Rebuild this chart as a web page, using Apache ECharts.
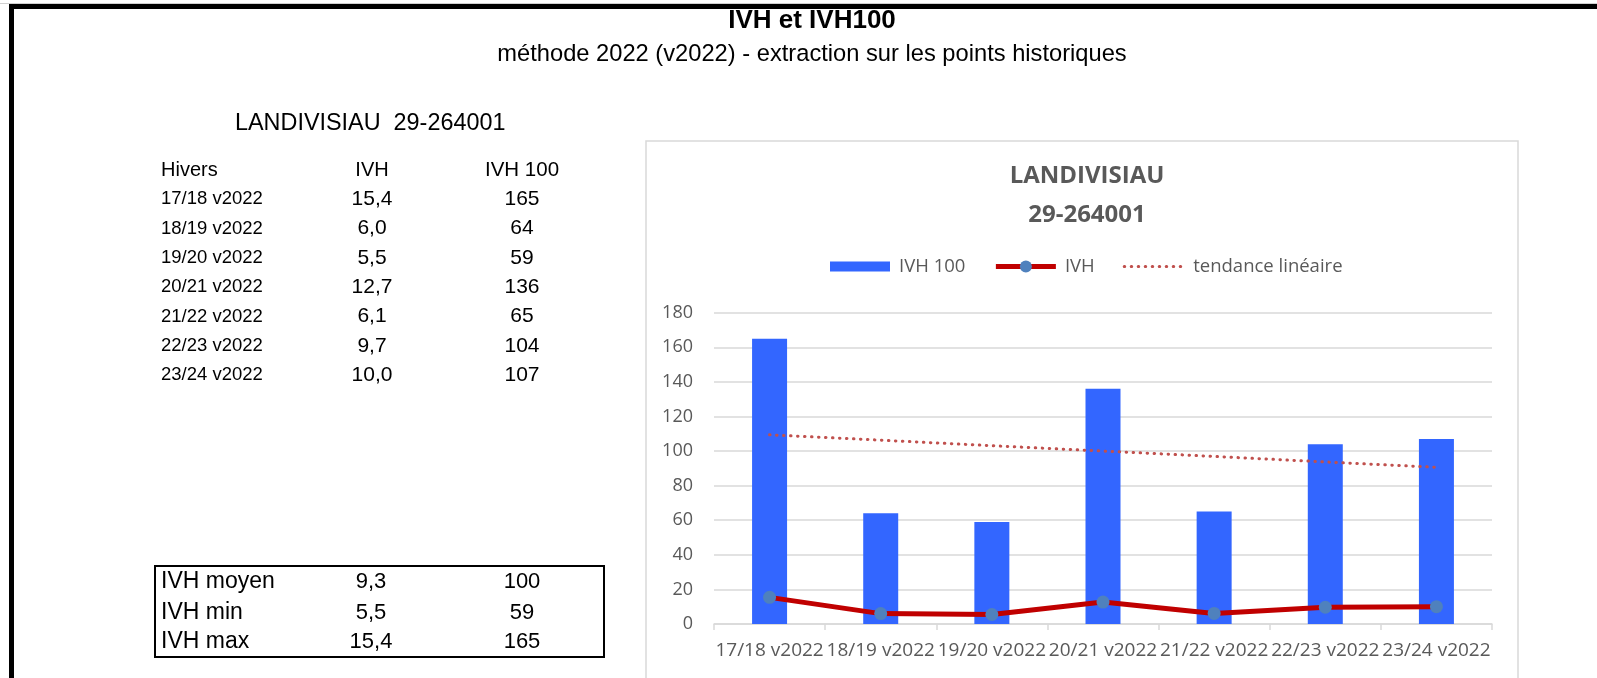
<!DOCTYPE html>
<html>
<head>
<meta charset="utf-8">
<title>IVH et IVH100</title>
<script src="https://cdn.jsdelivr.net/npm/echarts@6/dist/echarts.min.js"></script>
<style>
  html, body { margin: 0; padding: 0; background: #fff; }
  #chart { width: 1597px; height: 678px; }
</style>
</head>
<body>
<div id="chart"></div>
<script>
// données
const hivers = ['17/18 v2022', '18/19 v2022', '19/20 v2022', '20/21 v2022', '21/22 v2022', '22/23 v2022', '23/24 v2022'];
const ivh = [15.4, 6.0, 5.5, 12.7, 6.1, 9.7, 10.0];
const ivh100 = [165, 64, 59, 136, 65, 104, 107];
const tendance = [109.4, 106.3, 103.1, 100.0, 96.9, 93.7, 90.6];
// tableau du bas
const statLabels = ['IVH moyen', 'IVH min', 'IVH max'];
const statIvh = [9.3, 5.5, 15.4];
const statIvh100 = [100, 59, 165];
const yTicks = [0, 20, 40, 60, 80, 100, 120, 140, 160, 180];

const arial = '"Liberation Sans", Arial, sans-serif';
const calibri = '"Open Sans", sans-serif';
const grisTexte = '#595959';
const grisLigne = '#D9D9D9';

const fr = v => v.toFixed(1).replace('.', ',');

// petit helper pour les textes du tableau
function txt(text, x, y, size, align, bold) {
  return {
    type: 'text',
    silent: true,
    style: {
      text: text, x: x, y: y,
      font: (bold ? 'bold ' : '') + size + 'px ' + arial,
      fill: '#000',
      align: align, verticalAlign: 'middle',
      textAlign: align, textVerticalAlign: 'middle'
    }
  };
}

const elements = [
  // cadre noir
  { type: 'rect', shape: { x: 0, y: 3, width: 1597, height: 1 }, style: { fill: '#D0D0D0' } },
  { type: 'rect', shape: { x: 9, y: 4, width: 1588, height: 5 }, style: { fill: '#000' } },
  { type: 'rect', shape: { x: 9, y: 4, width: 5, height: 674 }, style: { fill: '#000' } },
  // cadre du graphique
  { type: 'rect', shape: { x: 646, y: 141, width: 872, height: 600 }, style: { fill: 'none', stroke: grisLigne, lineWidth: 1.5 } },
  txt('IVH et IVH100', 812, 21, 26, 'center', true),
  txt('méthode 2022 (v2022) - extraction sur les points historiques', 812, 54, 23.7, 'center'),
  txt('LANDIVISIAU  29-264001', 235, 124, 23.4, 'left'),
  txt('Hivers', 161, 170, 20, 'left'),
  txt('IVH', 372, 170, 20, 'center'),
  txt('IVH 100', 522, 170, 20.5, 'center'),
  // encadré des stats
  { type: 'rect', shape: { x: 155, y: 566, width: 449, height: 91 }, style: { fill: 'none', stroke: '#000', lineWidth: 2 } }
];

hivers.forEach((h, i) => {
  const y = 199.3 + i * 29.33;
  elements.push(txt(h, 161, y, 18.5, 'left'));
  elements.push(txt(fr(ivh[i]), 372, y, 21, 'center'));
  elements.push(txt(String(ivh100[i]), 522, y, 21, 'center'));
});

const statY = [582, 612.5, 642];
statLabels.forEach((s, i) => {
  elements.push(txt(s, 161, statY[i], 23, 'left'));
  elements.push(txt(fr(statIvh[i]), 371, statY[i], 22, 'center'));
  elements.push(txt(String(statIvh100[i]), 522, statY[i], 22, 'center'));
});

const chart = echarts.init(document.getElementById('chart'));
chart.setOption({
  animation: false,
  backgroundColor: '#fff',
  title: {
    text: 'LANDIVISIAU\n29-264001',
    left: 1082,
    textAlign: 'center',
    top: 152,
    textStyle: { fontFamily: calibri, fontSize: 24, fontWeight: 'bold', color: grisTexte, lineHeight: 39 }
  },
  legend: {
    left: 825,
    top: 252,
    itemWidth: 60,
    itemHeight: 15,
    itemGap: 28,
    symbolKeepAspect: true,
    textStyle: { fontFamily: calibri, fontSize: 18.5, color: grisTexte, padding: [0, 0, 0, 4] },
    data: [
      { name: 'IVH 100', icon: 'path://M0,0h60v10h-60z', itemStyle: { color: '#3366FF' } },
      { name: 'IVH', lineStyle: { width: 5, color: '#C00000' } },
      { name: 'tendance linéaire', itemStyle: { color: 'rgba(0,0,0,0)', opacity: 0 }, lineStyle: { width: 3 } }
    ]
  },
  grid: { left: 714, right: 105, top: 312.7, bottom: 54 },
  xAxis: {
    type: 'category',
    data: hivers,
    axisLine: { lineStyle: { color: grisLigne, width: 1.5 } },
    axisTick: { show: true, length: 6, lineStyle: { color: grisLigne, width: 1.5 } },
    axisLabel: { interval: 0, margin: 17, fontFamily: calibri, fontSize: 19, color: grisTexte }
  },
  yAxis: {
    type: 'value',
    min: yTicks[0],
    max: yTicks[yTicks.length - 1],
    interval: yTicks[1] - yTicks[0],
    axisLine: { show: false },
    axisTick: { show: false },
    splitLine: { lineStyle: { color: grisLigne, width: 1.5 } },
    axisLabel: { margin: 21, fontFamily: calibri, fontSize: 18, color: grisTexte }
  },
  series: [
    {
      name: 'IVH 100',
      type: 'bar',
      data: ivh100,
      barWidth: 35,
      itemStyle: { color: '#3366FF' }
    },
    {
      name: 'tendance linéaire',
      type: 'line',
      data: tendance,
      symbol: 'none',
      z: 3,
      lineStyle: { color: '#C0504D', width: 3, type: [0.5, 6.5], cap: 'round' },
      itemStyle: { color: '#C0504D' }
    },
    {
      name: 'IVH',
      type: 'line',
      data: ivh,
      symbol: 'circle',
      symbolSize: 13,
      z: 4,
      lineStyle: { color: '#C00000', width: 5 },
      itemStyle: { color: '#4F81BD' }
    }
  ],
  graphic: { elements: elements }
});
</script>
</body>
</html>
